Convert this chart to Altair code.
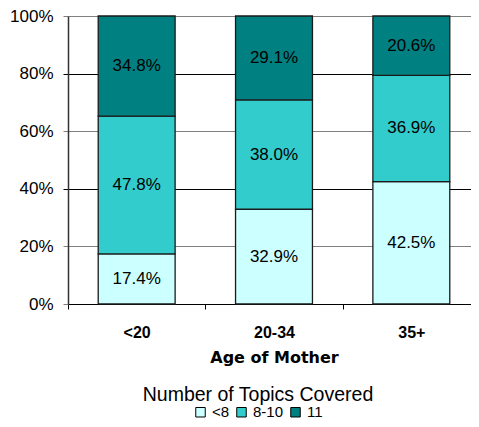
import altair as alt
import pandas as pd

ages = ["<20", "20-34", "35+"]
topics = ["<8", "8-10", "11"]
pct_lt8 = [17.4, 32.9, 42.5]
pct_8_10 = [47.8, 38.0, 36.9]
pct_11 = [34.8, 29.1, 20.6]
colors = ["#CCFFFF", "#33CCCC", "#008080"]
y_ticks = [0, 0.2, 0.4, 0.6, 0.8, 1.0]

rows = []
for i, a in enumerate(ages):
    for j, (t, vals) in enumerate(zip(topics, [pct_lt8, pct_8_10, pct_11])):
        rows.append({"age": a, "topic": t, "order": j, "value": vals[i] / 100})
df = pd.DataFrame(rows)

FONT = "Liberation Sans"
x_scale = alt.Scale(paddingInner=0, paddingOuter=0, range=[0, 412])

x_enc = alt.X(
    "age:N",
    sort=ages,
    scale=x_scale,
    axis=alt.Axis(
        title="Age of Mother",
        labelAngle=0,
        tickBand="extent",
        tickSize=5,
        tickColor="black",
        domainColor="black",
        domainWidth=1,
        labelFont=FONT,
        labelFontSize=16,
        labelFontWeight="bold",
        labelColor="black",
        labelPadding=15,
        titleFont="DejaVu Sans",
        titleFontSize=16,
        titleFontWeight="bold",
        titleColor="black",
        titlePadding=9,
    ),
)

y_scale = alt.Scale(domain=[0, 1])

base = alt.Chart(df).transform_stack(
    stack="value",
    groupby=["age"],
    as_=["y0", "y1"],
    sort=[alt.SortField("order", "ascending")],
).transform_calculate(
    mid="(datum.y0 + datum.y1) / 2",
    label="format(datum.value, '.1%')",
)

cond_color = {
    "condition": {"test": "datum.value == 0.8 || datum.value == 0.4", "value": "black"},
    "value": "#808080",
}

bars = base.mark_bar(
    width=alt.RelativeBandSize(0.56), stroke="#1a1a1a", strokeWidth=1.3
).encode(
    x=x_enc,
    y=alt.Y(
        "y0:Q",
        scale=y_scale,
        axis=alt.Axis(
            values=y_ticks,
            format=".0%",
            title=None,
            grid=True,
            gridColor=cond_color,
            tickColor=cond_color,
            tickSize=5,
            labelPadding=10,
            labelFont=FONT,
            labelFontSize=17,
            labelColor="black",
            domainColor="#333333",
            domainWidth=1.5,
        ),
    ),
    y2="y1:Q",
    color=alt.Color(
        "topic:N",
        scale=alt.Scale(domain=topics, range=colors),
        legend=alt.Legend(
            title="Number of Topics Covered",
            orient="none",
            legendX=75,
            legendY=370,
            direction="horizontal",
            titleAnchor="middle",
            titleFont=FONT,
            titleFontSize=19.5,
            titleFontWeight="normal",
            titleColor="black",
            titleLimit=500,
            titlePadding=-1,
            labelFont=FONT,
            labelFontSize=15,
            labelColor="black",
            labelOffset=4,
            columnPadding=4,
            symbolType="square",
            symbolSize=90,
            symbolStrokeColor="black",
            symbolStrokeWidth=1,
            symbolOpacity=1,
        ),
    ),
)

labels = base.mark_text(font=FONT, fontSize=17, color="black").encode(
    x=alt.X("age:N", sort=ages, scale=x_scale),
    y=alt.Y("mid:Q", scale=y_scale),
    text="label:N",
)

chart = (
    alt.layer(bars, labels)
    .properties(
        width=403,
        height=288,
        autosize=alt.AutoSizeParams(type="none"),
        padding={"left": 60, "top": 8, "right": 0, "bottom": 115},
        background="white",
    )
    .configure_view(stroke=None)
)

chart.save("out.html", embed_options={"renderer": "svg", "actions": False})
